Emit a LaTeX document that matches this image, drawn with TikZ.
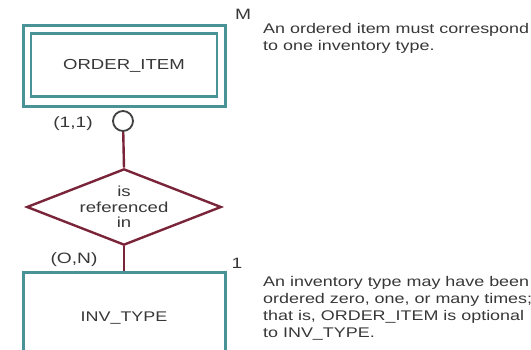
\documentclass[tikz,border=0pt]{standalone}
\usepackage{xcolor}
\usepackage{fontspec}
\setmainfont{Liberation Sans}[FakeStretch=1.28]
\usepackage{tikz}
\usetikzlibrary{
  positioning,
  shapes.geometric
}
\definecolor{entborder}{RGB}{72,146,152}
\definecolor{entbg}{RGB}{255,255,255}
\definecolor{relborder}{RGB}{122,36,58}
\definecolor{textcol}{RGB}{55,55,55}
\tikzset{
  entitybox/.style={
    draw=entborder, fill=entbg, line width=3pt,
    minimum width=202pt, minimum height=81pt,
    font=\fontsize{14}{16}\selectfont, text=textcol, align=center
  },
  innerbox/.style={
    draw=entborder, line width=2.6pt,
    minimum width=186pt, minimum height=63pt
  },
  relbox/.style={
    diamond, draw=relborder, line width=2.4pt, aspect=2.55,
    inner sep=0pt, minimum width=192pt, minimum height=76pt,
    font=\fontsize{14.5}{15.5}\selectfont, text=textcol, align=center
  },
  optcircle/.style={
    circle, draw=black!75, line width=1.8pt,
    minimum size=20pt, inner sep=0pt
  },
  relline/.style={
    draw=relborder, line width=2.4pt
  },
  cardlabel/.style={
    font=\fontsize{15}{16}\selectfont, text=textcol, inner sep=0pt
  },
  notetext/.style={
    font=\fontsize{14}{17.2}\selectfont, text=textcol, align=left,
    anchor=north west, inner sep=0pt
  }
}
\begin{document}
\begin{tikzpicture}[x=1pt, y=-1pt]
    \useasboundingbox (0,0) rectangle (531,349);
    \clip (0,0) rectangle (531,349);

    % entities
    \node[entitybox] (oi) at (124,66) {};
    \node[innerbox] (oiin) at (124,65) {};
    \node[cardlabel, font=\fontsize{14.5}{16}\selectfont] (oitxt) at (oi.center) {ORDER\_ITEM};
    \node[entitybox, minimum height=92pt] (inv) at (124,318) {INV\_TYPE};

    % relationship
    \node[relbox] (rel) at (124,207) {is\\referenced\\in};
    \node[optcircle] (opt) at (123,121) {};

    \draw[relline] (opt) -- (rel.north);
    \draw[relline] (rel.south) -- (inv.north);

    % cardinalities
    \node[cardlabel] (c11) at (73,124) {(1,1)};
    \node[cardlabel] (c0n) at (74,260) {(O,N)};
    \node[cardlabel] (cm) at (243,14) {M};
    \node[cardlabel] (c1) at (237,263) {1};

    % notes
    \node[notetext] (note1) at (263,23) {An ordered item must correspond\\to one inventory type.};
    \node[notetext] (note2) at (263,276) {An inventory type may have been\\ordered zero, one, or many times;\\that is, ORDER\_ITEM is optional\\to INV\_TYPE.};

  \end{tikzpicture}
\end{document}
